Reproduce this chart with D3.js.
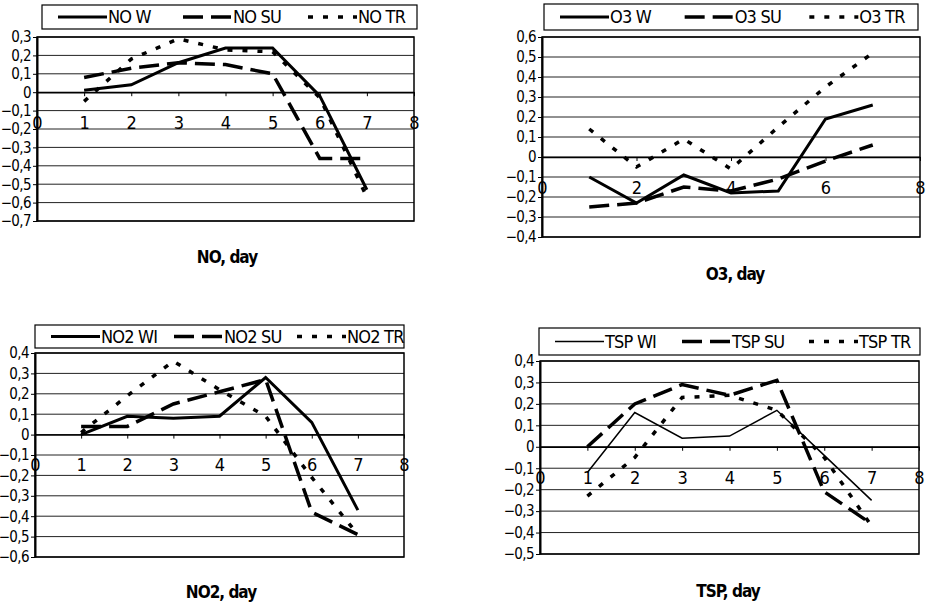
<!DOCTYPE html>
<html>
<head>
<meta charset="utf-8">
<script src="https://cdn.jsdelivr.net/npm/d3@7"></script>
<style>
  body { margin: 0; background: #fff; }
  text { font-family: "Liberation Sans Narrow", "Arial Narrow", "DejaVu Sans Condensed", sans-serif; fill: #000; }
</style>
</head>
<body>
<div id="chart"></div>
<script>
// days on the x axis
var days = [1, 2, 3, 4, 5, 6, 7];

// NO panel
var noW  = [0.01, 0.04, 0.16, 0.24, 0.24, -0.02, -0.53];
var noSU = [0.08, 0.13, 0.16, 0.15, 0.10, -0.36, -0.36];
var noTR = [-0.05, 0.18, 0.29, 0.23, 0.22, -0.03, -0.57];
var noYTicks = [0.3, 0.2, 0.1, 0, -0.1, -0.2, -0.3, -0.4, -0.5, -0.6, -0.7];
var noLegend = ["NO W", "NO SU", "NO TR"];

// O3 panel
var o3W  = [-0.10, -0.23, -0.09, -0.18, -0.17, 0.19, 0.26];
var o3SU = [-0.25, -0.23, -0.15, -0.17, -0.11, -0.02, 0.06];
var o3TR = [0.14, -0.05, 0.09, -0.06, 0.15, 0.35, 0.52];
var o3YTicks = [0.6, 0.5, 0.4, 0.3, 0.2, 0.1, 0, -0.1, -0.2, -0.3, -0.4];
var o3Legend = ["O3 W", "O3 SU", "O3 TR"];

// NO2 panel
var no2W  = [0.00, 0.09, 0.08, 0.09, 0.28, 0.06, -0.37];
var no2SU = [0.04, 0.04, 0.15, 0.21, 0.27, -0.38, -0.49];
var no2TR = [0.01, 0.19, 0.36, 0.22, 0.09, -0.21, -0.49];
var no2YTicks = [0.4, 0.3, 0.2, 0.1, 0, -0.1, -0.2, -0.3, -0.4, -0.5, -0.6];
var no2Legend = ["NO2 WI", "NO2 SU", "NO2 TR"];

// TSP panel
var tspW  = [-0.12, 0.16, 0.04, 0.05, 0.17, -0.04, -0.25];
var tspSU = [0.00, 0.20, 0.29, 0.24, 0.31, -0.21, -0.36];
var tspTR = [-0.23, -0.05, 0.23, 0.24, 0.17, -0.05, -0.37];
var tspYTicks = [0.4, 0.3, 0.2, 0.1, 0, -0.1, -0.2, -0.3, -0.4, -0.5];
var tspLegend = ["TSP WI", "TSP SU", "TSP TR"];

var xTicksAll = [0, 1, 2, 3, 4, 5, 6, 7, 8];
var xTicksEven = [0, 2, 4, 6, 8];

var svg = d3.select("#chart").append("svg")
    .attr("width", 926)
    .attr("height", 603);

var styles = [
  {dash: null, width: 3},        // W
  {dash: "20,8", width: 3.5},    // SU
  {dash: "5,10", width: 3.5}     // TR
];

var panels = [
  {series: [noW, noSU, noTR], yTicks: noYTicks, xTicks: xTicksAll, legend: noLegend, title: "NO, day",
   left: 37, right: 414, top: 37, bottom: 221, box: [42, 5, 375, 24], tx: 227, ty: 263, wWidth: 3},
  {series: [o3W, o3SU, o3TR], yTicks: o3YTicks, xTicks: xTicksEven, legend: o3Legend, title: "O3, day",
   left: 542, right: 920, top: 37, bottom: 237, box: [544, 4, 374, 26], tx: 735, ty: 280, wWidth: 3},
  {series: [no2W, no2SU, no2TR], yTicks: no2YTicks, xTicks: xTicksAll, legend: no2Legend, title: "NO2, day",
   left: 35, right: 404, top: 353, bottom: 557, box: [35, 325, 369, 23], tx: 221, ty: 598, wWidth: 3},
  {series: [tspW, tspSU, tspTR], yTicks: tspYTicks, xTicks: xTicksAll, legend: tspLegend, title: "TSP, day",
   left: 540, right: 919, top: 361, bottom: 554, box: [539, 328, 381, 27], tx: 728, ty: 597, wWidth: 1.5}
];

var comma = function(d) { return d === 0 ? "0" : d3.format(".1f")(d).replace(".", ","); };

panels.forEach(function(p) {
  var g = svg.append("g");
  var x = d3.scaleLinear().domain([0, 8]).range([p.left, p.right]);
  var y = d3.scaleLinear().domain([d3.min(p.yTicks), d3.max(p.yTicks)]).range([p.bottom, p.top]);

  // gridlines
  g.append("g").selectAll("line")
    .data(p.yTicks)
    .enter().append("line")
      .attr("x1", p.left).attr("x2", p.right)
      .attr("y1", function(d) { return y(d); })
      .attr("y2", function(d) { return y(d); })
      .attr("stroke", "#222").attr("stroke-width", 1);

  // frame
  g.append("rect")
    .attr("x", p.left).attr("y", p.top)
    .attr("width", p.right - p.left).attr("height", p.bottom - p.top)
    .attr("fill", "none").attr("stroke", "#000").attr("stroke-width", 1.5);

  // y axis
  var ya = g.append("g")
    .attr("transform", "translate(" + p.left + ",0)")
    .call(d3.axisLeft(y).tickValues(p.yTicks).tickSize(4).tickSizeOuter(0).tickPadding(2).tickFormat(comma));
  ya.select(".domain").attr("stroke-width", 2);
  ya.selectAll("text").style("font-size", "15px").attr("letter-spacing", "-0.6");

  // x axis on the zero line
  var xa = g.append("g")
    .attr("transform", "translate(0," + y(0) + ")")
    .call(d3.axisBottom(x).tickValues(p.xTicks).tickSize(4).tickSizeOuter(0).tickPadding(20).tickFormat(d3.format("d")));
  xa.select(".domain").attr("stroke-width", 1.5);
  xa.selectAll("text").style("font-size", "18px");

  // series
  var line = d3.line()
    .x(function(d, i) { return x(days[i]); })
    .y(function(d) { return y(d); });

  p.series.forEach(function(s, i) {
    g.append("path")
      .datum(s)
      .attr("d", line)
      .attr("fill", "none")
      .attr("stroke", "#000")
      .attr("stroke-width", i === 0 ? p.wWidth : styles[i].width)
      .attr("stroke-dasharray", styles[i].dash);
  });

  // legend
  var b = p.box;
  var lg = g.append("g");
  lg.append("rect")
    .attr("x", b[0]).attr("y", b[1]).attr("width", b[2]).attr("height", b[3])
    .attr("fill", "#fff").attr("stroke", "#000").attr("stroke-width", 1.2);
  p.legend.forEach(function(name, i) {
    var sx = b[0] + 16 + i * b[2] / 3;
    var cy = b[1] + b[3] / 2;
    lg.append("line")
      .attr("x1", sx).attr("x2", sx + 49)
      .attr("y1", cy).attr("y2", cy)
      .attr("stroke", "#000")
      .attr("stroke-width", i === 0 ? p.wWidth : styles[i].width)
      .attr("stroke-dasharray", styles[i].dash);
    lg.append("text")
      .attr("x", sx + 50).attr("y", cy)
      .attr("dy", "0.35em")
      .attr("letter-spacing", "-0.8")
      .style("font-size", "18px")
      .text(name);
  });

  // axis title
  g.append("text")
    .attr("x", p.tx).attr("y", p.ty)
    .attr("text-anchor", "middle")
    .attr("letter-spacing", "-1")
    .style("font-size", "17px")
    .style("font-weight", "bold")
    .text(p.title);
});
</script>
</body>
</html>
